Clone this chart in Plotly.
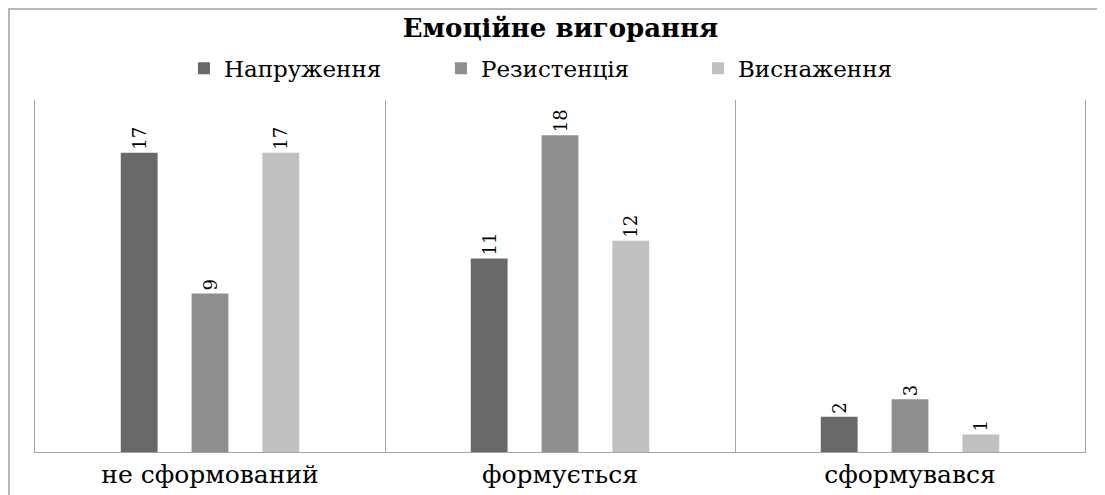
import plotly.graph_objects as go

categories = ["не сформований", "формується", "сформувався"]
series_names = ["Напруження", "Резистенція", "Виснаження"]
napruzhennia = [17, 11, 2]
rezystentsiia = [9, 18, 3]
vysnazhennia = [17, 12, 1]
colors = ["#686868", "#8e8e8e", "#c0c0c0"]

SERIF = "DejaVu Serif"

fig = go.Figure()
for name, vals, col in zip(series_names, [napruzhennia, rezystentsiia, vysnazhennia], colors):
    fig.add_trace(go.Bar(
        x=categories, y=vals, name=name,
        marker=dict(color=col, line=dict(width=0)),
        text=[str(v) for v in vals], textposition="outside", textangle=-90,
        textfont=dict(family=SERIF, size=18, color="#000000"),
        cliponaxis=False,
    ))

# page has an 8px body margin: figure coords = page coords - 8
fig.update_layout(
    width=1105, height=495,
    margin=dict(l=27, r=28, t=92, b=51),
    paper_bgcolor="white", plot_bgcolor="white",
    barmode="group", bargap=0.393, bargroupgap=0.48,
    font=dict(family=SERIF, color="#000000"),
    title=dict(text="<b>Емоційне вигорання</b>", x=0.5, xanchor="center",
               y=1 - 20 / 495, yanchor="middle", font=dict(size=26, family=SERIF)),
    legend=dict(orientation="h", x=0.509, xanchor="center", y=1.09, yanchor="middle",
                font=dict(size=23, family=SERIF), itemwidth=30,
                traceorder="normal", entrywidth=212, entrywidthmode="pixels"),
    showlegend=True,
    xaxis=dict(tickson="boundaries", showgrid=True, gridcolor="#a6a6a6", gridwidth=1,
               showline=True, linecolor="#a6a6a6", linewidth=1, ticks="",
               tickfont=dict(size=25, family=SERIF), ticklabelstandoff=0),
    yaxis=dict(range=[0, 20], showgrid=False, showticklabels=False, ticks="",
               showline=True, linecolor="#a6a6a6", linewidth=1, mirror=True,
               zeroline=False),
)

fig.add_shape(type="rect", xref="paper", yref="paper",
              x0=(1 - 27) / 1050, x1=1.2, y0=-0.5, y1=(444 - 1) / 352,
              line=dict(color="#a0a0a0", width=1.5), fillcolor="rgba(0,0,0,0)", layer="below")

fig.write_html("out.html")
